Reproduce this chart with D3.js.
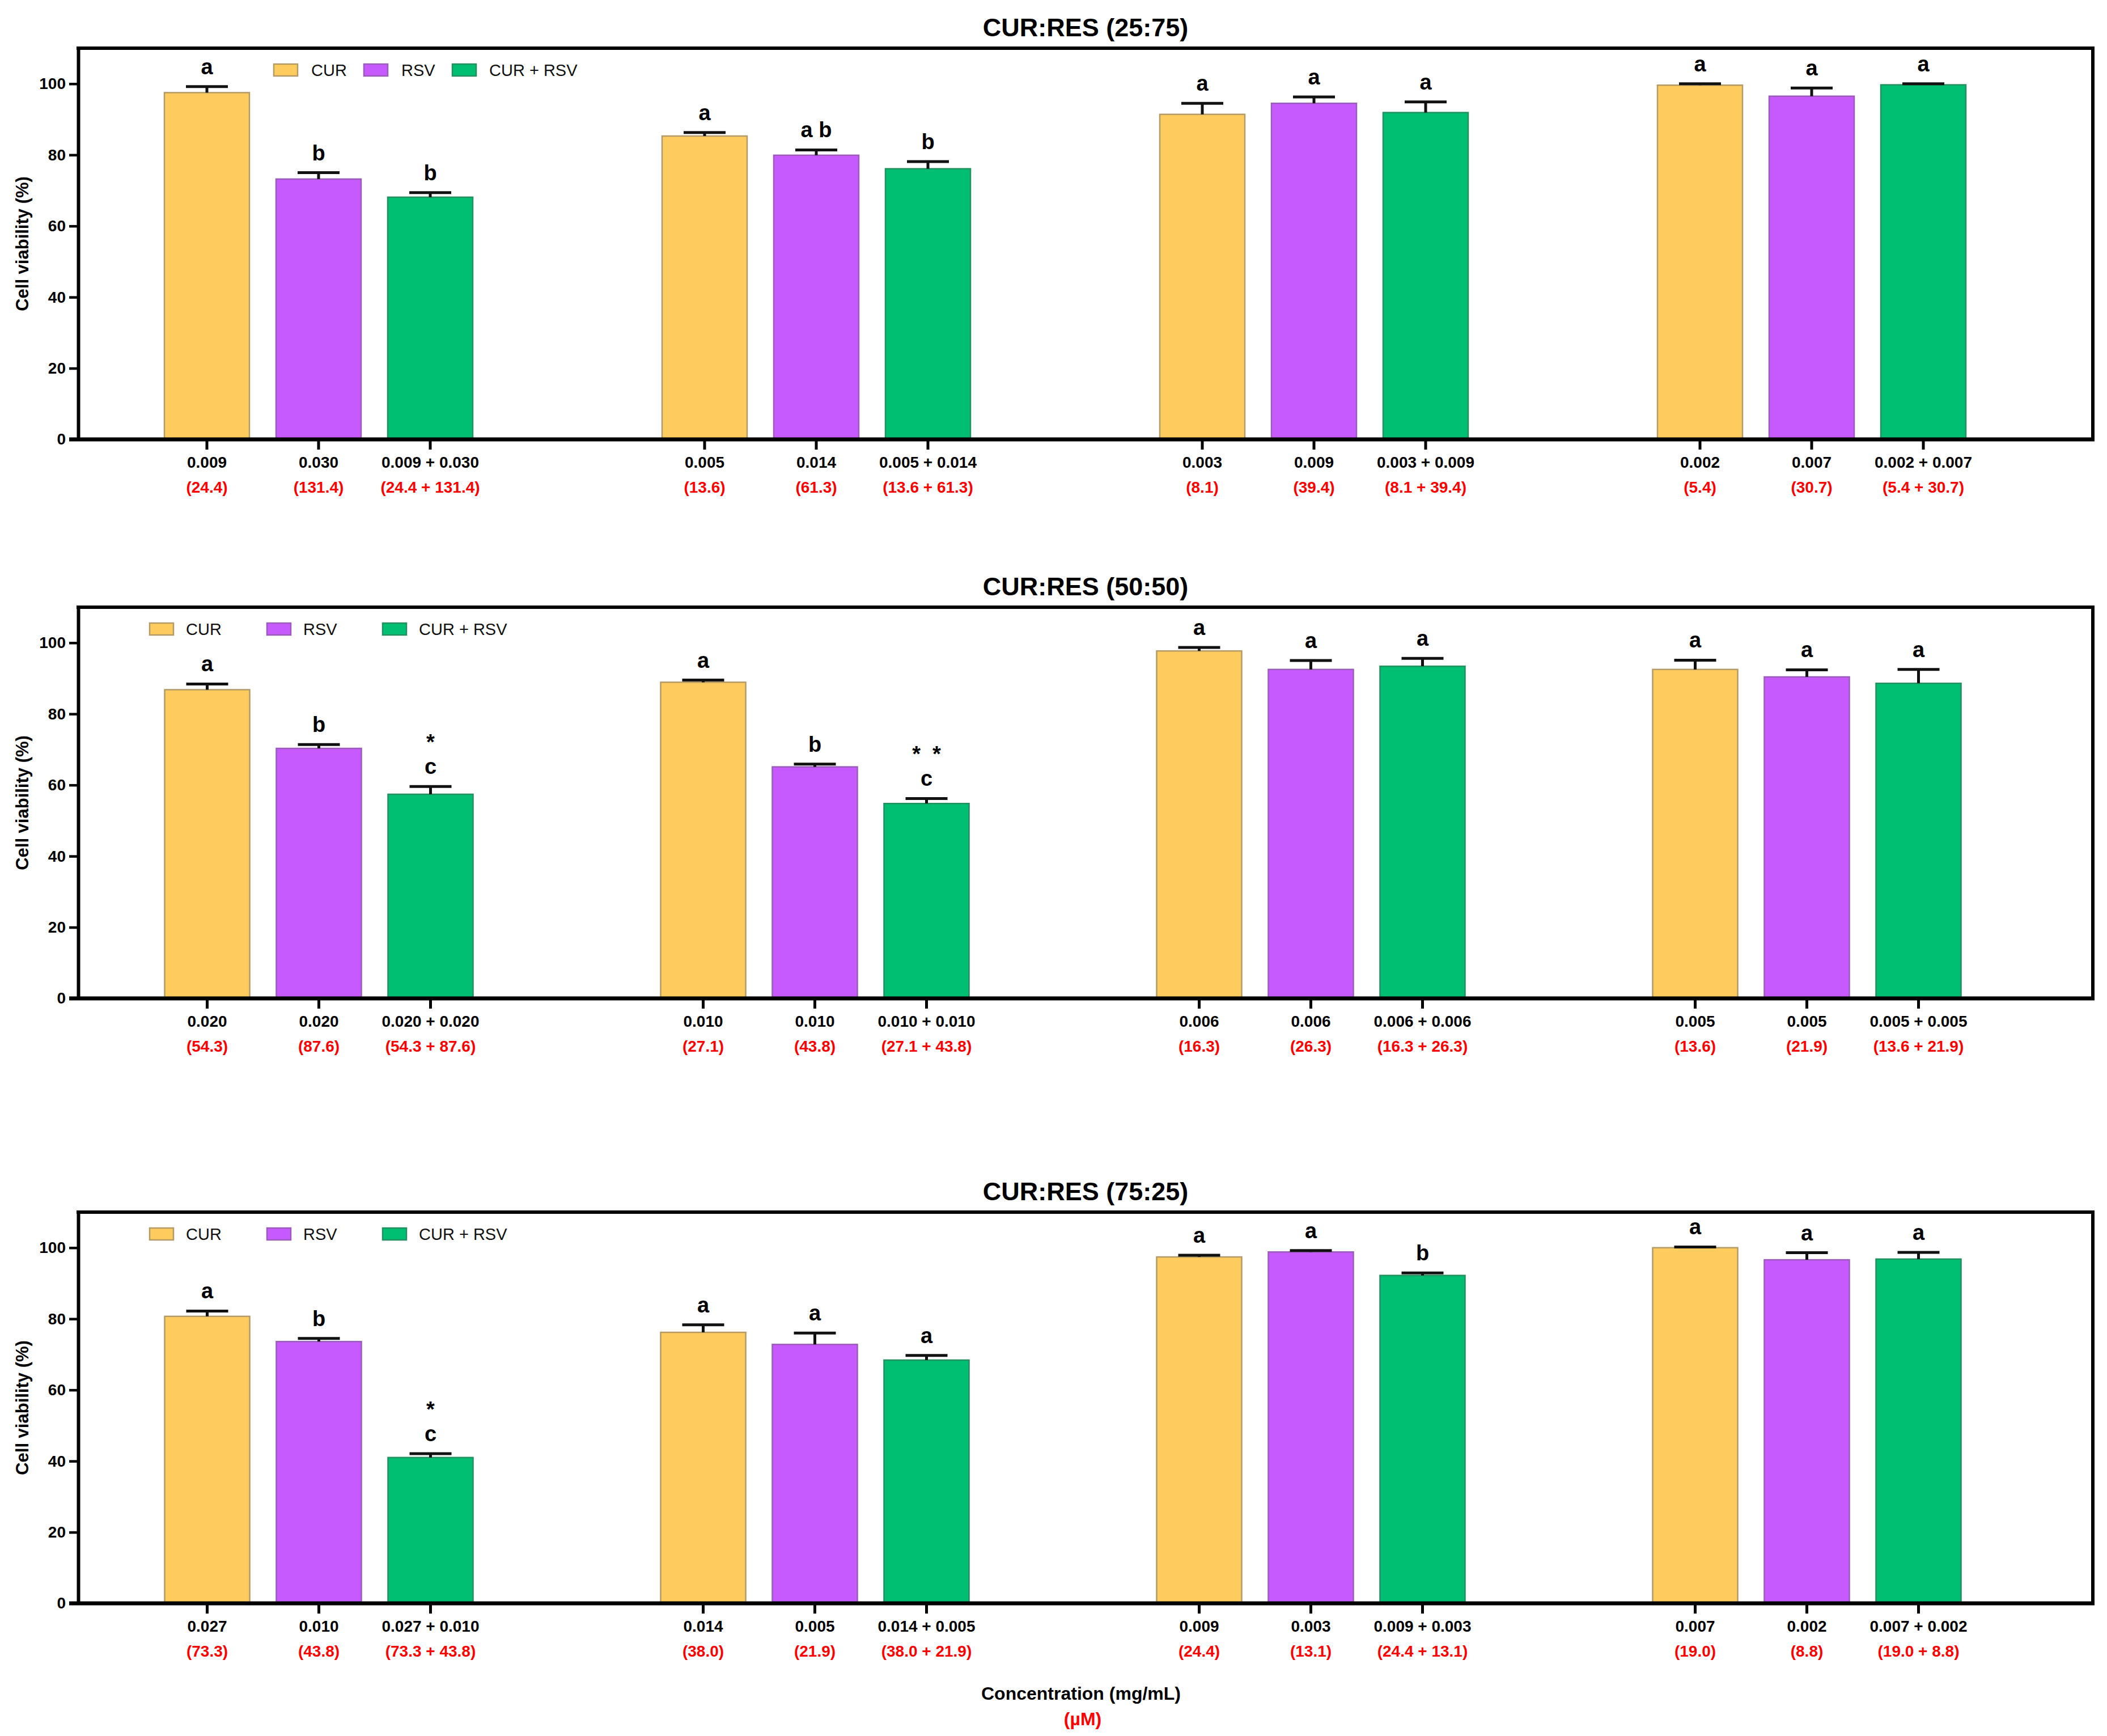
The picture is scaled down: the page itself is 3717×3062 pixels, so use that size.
<!DOCTYPE html>
<html><head><meta charset="utf-8">
<script src="https://cdn.jsdelivr.net/npm/d3@7"></script>
<style>
body{margin:0;background:#fff}
svg{display:block}
text{font-family:"Liberation Sans",Arial,Helvetica,sans-serif}
</style>
</head><body>
<svg id="chart" width="3717" height="3062"></svg>
<script>
// ---------- DATA ----------
const panelTitles = ["CUR:RES (25:75)", "CUR:RES (50:50)", "CUR:RES (75:25)"];
const seriesNames = ["CUR", "RSV", "CUR + RSV"];
const groupIds = ["g1", "g2", "g3", "g4"];
const yTickValues = [0, 20, 40, 60, 80, 100];

// concentrations (mg/mL) per panel and group
const curMg = [["0.009","0.005","0.003","0.002"],["0.020","0.010","0.006","0.005"],["0.027","0.014","0.009","0.007"]];
const rsvMg = [["0.030","0.014","0.009","0.007"],["0.020","0.010","0.006","0.005"],["0.010","0.005","0.003","0.002"]];
// concentrations (µM)
const curUM = [["24.4","13.6","8.1","5.4"],["54.3","27.1","16.3","13.6"],["73.3","38.0","24.4","19.0"]];
const rsvUM = [["131.4","61.3","39.4","30.7"],["87.6","43.8","26.3","21.9"],["43.8","21.9","13.1","8.8"]];

// cell viability (%) means and SD
const curMean   = [[97.5, 85.3, 91.4, 99.6],[86.8, 88.9, 97.7, 92.5],[80.7, 76.2, 97.4, 100.0]];
const curErr    = [[1.7, 1.0, 3.1, 0.4],[1.6, 0.6, 1.0, 2.6],[1.5, 2.1, 0.5, 0.2]];
const rsvMean   = [[73.2, 79.9, 94.5, 96.5],[70.3, 65.1, 92.5, 90.4],[73.6, 72.8, 98.8, 96.6]];
const rsvErr    = [[1.8, 1.5, 1.8, 2.3],[1.1, 0.8, 2.5, 2.0],[0.9, 3.2, 0.4, 2.0]];
const comboMean = [[68.1, 76.1, 91.9, 99.7],[57.4, 54.8, 93.4, 88.6],[41.0, 68.4, 92.2, 96.8]];
const comboErr  = [[1.3, 2.0, 3.0, 0.3],[2.2, 1.4, 2.2, 3.9],[1.1, 1.3, 0.7, 1.9]];

// significance letters
const curLetters   = [["a","a","a","a"],["a","a","a","a"],["a","a","a","a"]];
const rsvLetters   = [["b","a b","a","a"],["b","b","a","a"],["b","a","a","a"]];
const comboLetters = [["b","b","a","a"],["c","c","a","a"],["c","a","b","a"]];
const comboStars   = [["","","",""],["*","*  *","",""],["*","","",""]];

const seriesFill   = ["#FECC5E", "#C65AFE", "#00BF73"];
const seriesStroke = ["#B39A66", "#9A5CB8", "#24905F"];

// ---------- LAYOUT ----------
const W = 3717, H = 3062;
const plotLeft = 138, plotRight = 3692;
const panelTops = [85, 1071, 2138];
const panelH = 690;
const groupRanges = [[123, 3635], [125, 3625], [125, 3625]];
const legendSq = [[483, 642, 798], [264, 471, 675], [264, 471, 675]];
const legendTx = [[549, 708, 863], [328, 535, 739], [328, 535, 739]];

const svg = d3.select("#chart").attr("viewBox", `0 0 ${W} ${H}`);
svg.append("rect").attr("width", W).attr("height", H).attr("fill", "#fff");

const x1 = d3.scaleBand().domain(seriesNames).range([-295.5, 295.5]).paddingInner(0.2386).paddingOuter(0.1193);

panelTitles.forEach((title, p) => {
  const top = panelTops[p], base = top + panelH;
  const y = d3.scaleLinear().domain([0, 110]).range([base, top]);
  const x0 = d3.scaleBand().domain(groupIds).range(groupRanges[p]).padding(0);
  const g = svg.append("g");

  // title
  g.append("text").attr("x", (plotLeft + plotRight) / 2).attr("y", top - 21)
    .attr("text-anchor", "middle").attr("font-size", 45).attr("font-weight", "bold").text(title);

  // rows of data for this panel
  const rows = [];
  groupIds.forEach((gid, i) => {
    const means = [curMean[p][i], rsvMean[p][i], comboMean[p][i]];
    const errs = [curErr[p][i], rsvErr[p][i], comboErr[p][i]];
    const letters = [curLetters[p][i], rsvLetters[p][i], comboLetters[p][i]];
    const mg = [curMg[p][i], rsvMg[p][i], curMg[p][i] + " + " + rsvMg[p][i]];
    const um = ["(" + curUM[p][i] + ")", "(" + rsvUM[p][i] + ")", "(" + curUM[p][i] + " + " + rsvUM[p][i] + ")"];
    seriesNames.forEach((s, k) => {
      rows.push({
        gid, s, k, v: means[k], e: errs[k], letter: letters[k],
        star: k === 2 ? comboStars[p][i] : "", mg: mg[k], um: um[k],
        cx: x0(gid) + x0.bandwidth() / 2 + x1(s) + x1.bandwidth() / 2
      });
    });
  });

  // bars
  g.selectAll("rect.bar").data(rows).join("rect").attr("class", "bar")
    .attr("x", d => d.cx - x1.bandwidth() / 2).attr("width", x1.bandwidth())
    .attr("y", d => y(d.v)).attr("height", d => y(0) - y(d.v))
    .attr("fill", d => seriesFill[d.k]).attr("stroke", d => seriesStroke[d.k]).attr("stroke-width", 2.5);

  // error bars
  const eb = g.selectAll("g.eb").data(rows).join("g").attr("class", "eb")
    .attr("stroke", "#111").attr("stroke-width", 5);
  eb.append("line").attr("x1", d => d.cx).attr("x2", d => d.cx).attr("y1", d => y(d.v)).attr("y2", d => y(d.v + d.e));
  eb.append("line").attr("x1", d => d.cx - 37).attr("x2", d => d.cx + 37).attr("y1", d => y(d.v + d.e)).attr("y2", d => y(d.v + d.e));

  // letters
  g.selectAll("text.let").data(rows).join("text").attr("class", "let")
    .attr("x", d => d.cx).attr("y", d => y(d.v + d.e) - 22)
    .attr("text-anchor", "middle").attr("font-size", 38).attr("font-weight", "bold")
    .text(d => d.letter);
  g.selectAll("text.star").data(rows.filter(d => d.star)).join("text").attr("class", "star")
    .attr("x", d => d.cx).attr("y", d => y(d.v + d.e) - 65)
    .attr("text-anchor", "middle").attr("font-size", 38).attr("font-weight", "bold")
    .style("white-space", "pre").text(d => d.star);

  // y axis
  const ya = g.append("g").attr("transform", `translate(${plotLeft},0)`)
    .call(d3.axisLeft(y).tickValues(yTickValues).tickSize(16).tickSizeOuter(0).tickPadding(6));
  ya.select(".domain").attr("stroke", "#000").attr("stroke-width", 6);
  ya.selectAll(".tick line").attr("stroke", "#000").attr("stroke-width", 4.5);
  ya.selectAll(".tick text").attr("font-size", 28).attr("font-weight", "bold").attr("fill", "#000")
    .style("font-family", '"Liberation Sans",Arial,sans-serif');

  // frame (top + right)
  g.append("path").attr("d", `M${plotLeft - 3},${top} H${plotRight} V${base}`)
    .attr("fill", "none").attr("stroke", "#000").attr("stroke-width", 6);
  // baseline
  g.append("line").attr("x1", plotLeft - 16).attr("x2", plotRight + 3).attr("y1", base).attr("y2", base)
    .attr("stroke", "#000").attr("stroke-width", 7);

  // x ticks and labels
  g.selectAll("line.xt").data(rows).join("line").attr("class", "xt")
    .attr("x1", d => d.cx).attr("x2", d => d.cx).attr("y1", base).attr("y2", base + 18)
    .attr("stroke", "#000").attr("stroke-width", 5);
  g.selectAll("text.mg").data(rows).join("text").attr("class", "mg")
    .attr("x", d => d.cx).attr("y", base + 50).attr("text-anchor", "middle")
    .attr("font-size", 28).attr("font-weight", "bold").attr("fill", "#000").text(d => d.mg);
  g.selectAll("text.um").data(rows).join("text").attr("class", "um")
    .attr("x", d => d.cx).attr("y", base + 94).attr("text-anchor", "middle")
    .attr("font-size", 28).attr("font-weight", "bold").attr("fill", "#FF0000").text(d => d.um);

  // y axis title
  g.append("text").attr("transform", `translate(50,${(top + base) / 2}) rotate(-90)`)
    .attr("text-anchor", "middle").attr("font-size", 31).attr("font-weight", "bold").text("Cell viability (%)");

  // legend
  seriesNames.forEach((s, k) => {
    g.append("rect").attr("x", legendSq[p][k]).attr("y", top + 28).attr("width", 42).attr("height", 21)
      .attr("fill", seriesFill[k]).attr("stroke", seriesStroke[k]).attr("stroke-width", 2.5);
    g.append("text").attr("x", legendTx[p][k]).attr("y", top + 49)
      .attr("font-size", 29).attr("fill", "#111").text(s);
  });
});

// shared x-axis title
svg.append("text").attr("x", 1907).attr("y", 2998).attr("text-anchor", "middle")
  .attr("font-size", 32).attr("font-weight", "bold").text("Concentration (mg/mL)");
svg.append("text").attr("x", 1910).attr("y", 3043).attr("text-anchor", "middle")
  .attr("font-size", 32).attr("font-weight", "bold").attr("fill", "#FF0000").text("(µM)");
</script>
</body></html>
